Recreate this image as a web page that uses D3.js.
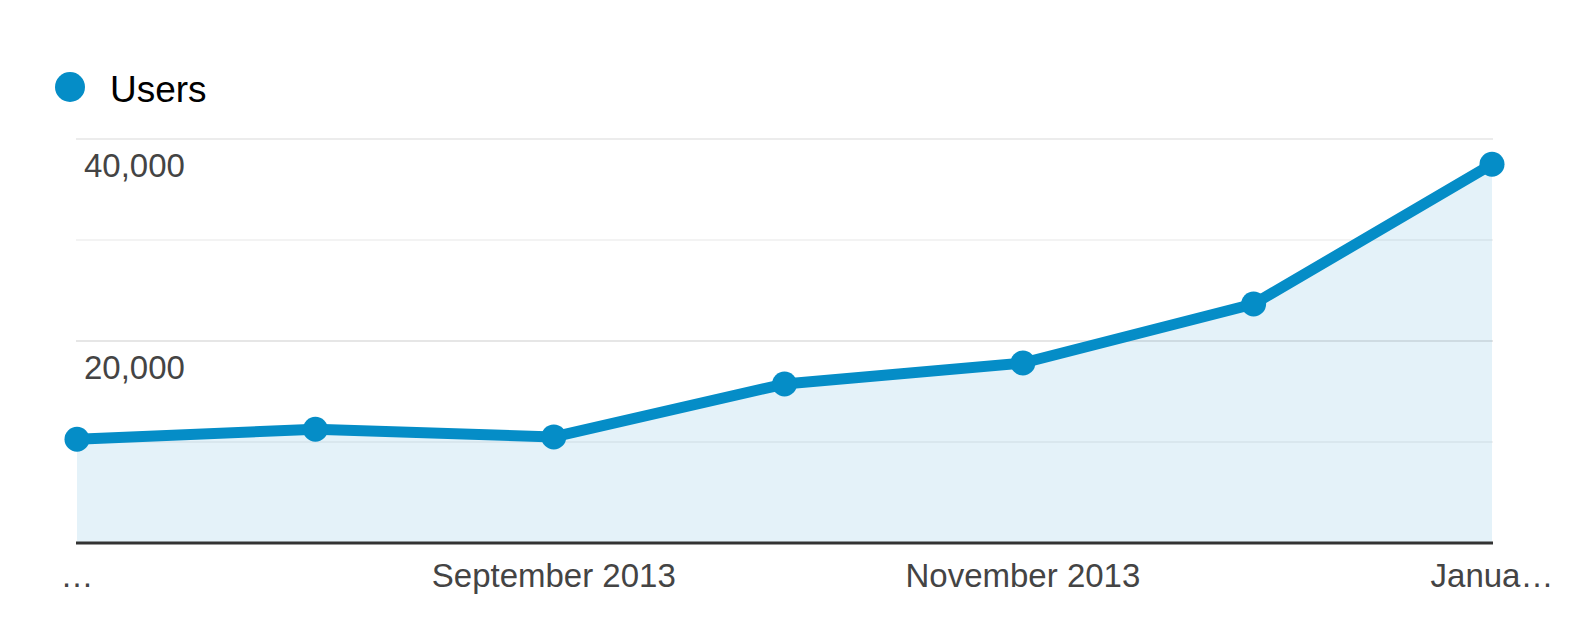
<!DOCTYPE html>
<html>
<head>
<meta charset="utf-8">
<script src="https://cdn.jsdelivr.net/npm/d3@7"></script>
<style>
  body { margin: 0; background: #fff; }
  text { font-family: "Liberation Sans", Arial, sans-serif; }
</style>
</head>
<body>
<svg id="chart"></svg>
<script>
// monthly users, Jul 2013 - Jan 2014
const months = ['2013-07-01', '2013-08-01', '2013-09-01', '2013-10-01', '2013-11-01', '2013-12-01', '2014-01-01'];
const users = [10270, 11260, 10500, 15740, 17820, 23660, 37500];
const xTickLabels = ['…', '', 'September 2013', '', 'November 2013', '', 'Janua…'];
const gridValues = [10000, 20000, 30000, 40000];
const yTickValues = [20000, 40000];
const seriesName = 'Users';

const width = 1570;
const height = 644;
const blue = '#058dc7';

const parse = d3.utcParse('%Y-%m-%d');
const dates = months.map(parse);

const svg = d3.select('#chart')
  .attr('width', width)
  .attr('height', height);

const x = d3.scaleUtc()
  .domain(d3.extent(dates))
  .range([77, 1492]);

const y = d3.scaleLinear()
  .domain([0, 40000])
  .range([543, 139]);

// legend
svg.append('circle')
  .attr('cx', 70)
  .attr('cy', 87)
  .attr('r', 15)
  .attr('fill', blue);
svg.append('text')
  .attr('x', 110)
  .attr('y', 102)
  .attr('font-size', 37)
  .attr('fill', '#000')
  .text(seriesName);

// gridlines (labelled ones a bit stronger)
svg.selectAll('line.grid')
  .data(gridValues)
  .enter()
  .append('line')
  .attr('class', 'grid')
  .attr('x1', 76)
  .attr('x2', 1493)
  .attr('y1', d => y(d))
  .attr('y2', d => y(d))
  .attr('stroke', d => d % 20000 === 0 ? '#ececec' : '#f6f6f6')
  .attr('stroke-width', 2);

// area under the line
const area = d3.area()
  .x((d, i) => x(dates[i]))
  .y0(y(0))
  .y1(d => y(d));

svg.append('path')
  .datum(users)
  .attr('d', area)
  .attr('fill', blue)
  .attr('fill-opacity', 0.11);

// gridlines showing faintly through the area
svg.selectAll('line.grid2')
  .data(gridValues.filter(d => d < 40000))
  .enter()
  .append('line')
  .attr('class', 'grid2')
  .attr('x1', 76)
  .attr('x2', 1493)
  .attr('y1', d => y(d))
  .attr('y2', d => y(d))
  .attr('stroke', '#000')
  .attr('stroke-opacity', d => d % 20000 === 0 ? 0.025 : 0.012)
  .attr('stroke-width', 2);

// baseline
svg.append('line')
  .attr('x1', 76)
  .attr('x2', 1493)
  .attr('y1', y(0))
  .attr('y2', y(0))
  .attr('stroke', '#333')
  .attr('stroke-width', 3);

// y labels (sit below their gridline)
svg.selectAll('text.ylab')
  .data(yTickValues)
  .enter()
  .append('text')
  .attr('class', 'ylab')
  .attr('x', 84)
  .attr('y', d => y(d) + 38)
  .attr('font-size', 33)
  .attr('fill', '#444')
  .text(d => d3.format(',')(d));

// x labels
svg.selectAll('text.xlab')
  .data(dates)
  .enter()
  .append('text')
  .attr('class', 'xlab')
  .attr('x', d => x(d))
  .attr('y', 587)
  .attr('text-anchor', 'middle')
  .attr('font-size', 33)
  .attr('fill', '#444')
  .text((d, i) => xTickLabels[i]);

// line
const line = d3.line()
  .x((d, i) => x(dates[i]))
  .y(d => y(d));

svg.append('path')
  .datum(users)
  .attr('d', line)
  .attr('fill', 'none')
  .attr('stroke', blue)
  .attr('stroke-width', 11)
  .attr('stroke-linejoin', 'round');

// points
svg.selectAll('circle.pt')
  .data(users)
  .enter()
  .append('circle')
  .attr('class', 'pt')
  .attr('cx', (d, i) => x(dates[i]))
  .attr('cy', d => y(d))
  .attr('r', 12.5)
  .attr('fill', blue);
</script>
</body>
</html>
